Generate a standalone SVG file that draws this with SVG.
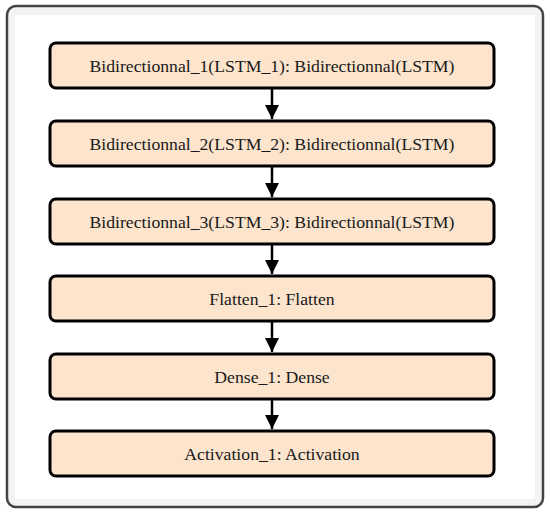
<svg xmlns="http://www.w3.org/2000/svg" width="550" height="514" viewBox="0 0 550 514">
<defs>
<style>
.box{fill:#fde4cc;stroke:#000;stroke-width:3}
.lbl{font-family:"Liberation Serif","Times New Roman",serif;font-size:17.7px;fill:#1a1a1a;text-anchor:middle;dominant-baseline:central}
.con{stroke:#000;stroke-width:2.5;fill:none}
</style>
<marker id="ah" viewBox="0 0 10 10" refX="10" refY="5" markerWidth="6" markerHeight="5.6" markerUnits="strokeWidth" orient="auto">
<path d="M0,0 L10,5 L0,10 z" fill="#000"/>
</marker>
</defs>
<rect x="0" y="0" width="550" height="514" fill="#fff"/>
<rect x="7" y="6" width="536" height="501" rx="9" fill="#f3f3f3" stroke="#444" stroke-width="2.5"/>
<rect x="15" y="15" width="520" height="484" fill="#fff"/>
<g id="n1"><rect class="box" x="50" y="43" width="444" height="45" rx="6"/><text class="lbl" x="272" y="66">Bidirectionnal_1(LSTM_1): Bidirectionnal(LSTM)</text></g>
<g id="n2"><rect class="box" x="50" y="121" width="444" height="45" rx="6"/><text class="lbl" x="272" y="144">Bidirectionnal_2(LSTM_2): Bidirectionnal(LSTM)</text></g>
<g id="n3"><rect class="box" x="50" y="199" width="444" height="45" rx="6"/><text class="lbl" x="272" y="222">Bidirectionnal_3(LSTM_3): Bidirectionnal(LSTM)</text></g>
<g id="n4"><rect class="box" x="50" y="276" width="444" height="45" rx="6"/><text class="lbl" x="272" y="299">Flatten_1: Flatten</text></g>
<g id="n5"><rect class="box" x="50" y="354" width="444" height="45" rx="6"/><text class="lbl" x="272" y="377">Dense_1: Dense</text></g>
<g id="n6"><rect class="box" x="50" y="431" width="444" height="45" rx="6"/><text class="lbl" x="272" y="454">Activation_1: Activation</text></g>
<g id="connectors">
<line class="con" x1="272" y1="89" x2="272" y2="119" marker-end="url(#ah)"/>
<line class="con" x1="272" y1="167" x2="272" y2="197" marker-end="url(#ah)"/>
<line class="con" x1="272" y1="245" x2="272" y2="274" marker-end="url(#ah)"/>
<line class="con" x1="272" y1="322" x2="272" y2="352" marker-end="url(#ah)"/>
<line class="con" x1="272" y1="400" x2="272" y2="429" marker-end="url(#ah)"/>
</g>
</svg>
